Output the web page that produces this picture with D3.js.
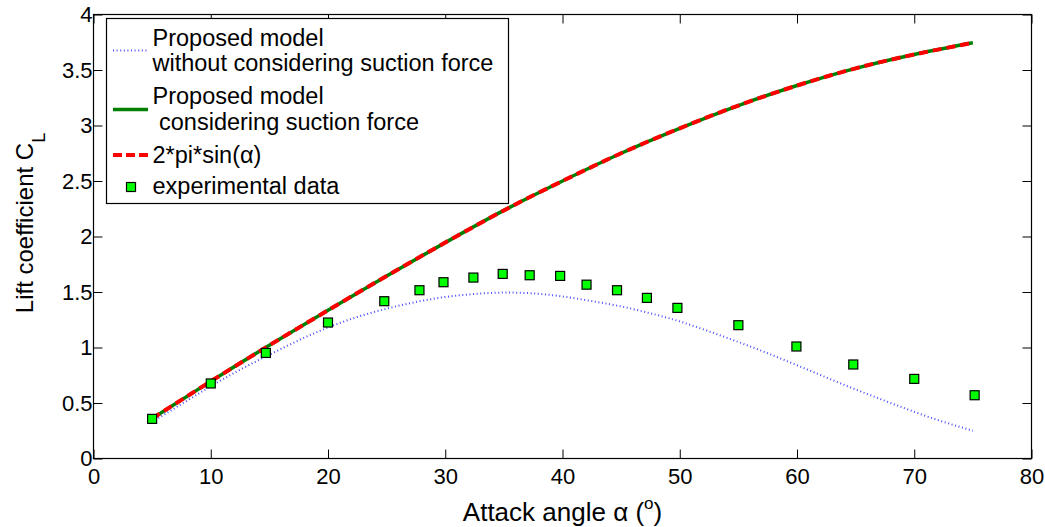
<!DOCTYPE html>
<html>
<head>
<meta charset="utf-8">
<script src="https://cdn.jsdelivr.net/npm/d3@7"></script>
<style>
body { margin: 0; background: #fff; }
svg { display: block; font-family: "Liberation Sans", Arial, Helvetica, sans-serif; }
.tick text { font-size: 22px; fill: #000; }
.tick line { stroke: #000; stroke-width: 1; }
</style>
</head>
<body>
<svg width="1045" height="527"></svg>
<script>
// values
const alphaModel = [5, 7.5, 10, 12.5, 15, 17.5, 20, 22.5, 25, 27.5, 30, 32.5, 35, 37.5, 40, 42.5, 45, 47.5, 50, 52.5, 55, 57.5, 60, 62.5, 65, 67.5, 70, 72.5, 75]
const noSuction = [0.33, 0.49, 0.65, 0.80, 0.935, 1.065, 1.18, 1.275, 1.35, 1.41, 1.455, 1.482, 1.495, 1.487, 1.46, 1.418, 1.37, 1.308, 1.235, 1.145, 1.05, 0.948, 0.84, 0.73, 0.622, 0.52, 0.42, 0.33, 0.25]

const alphaFull = [5, 10, 15, 20, 25, 30, 35, 40, 45, 50, 55, 60, 65, 70, 75]
const withSuction = [0.36, 0.695, 1.02, 1.335, 1.645, 1.945, 2.235, 2.50, 2.75, 2.975, 3.18, 3.36, 3.515, 3.64, 3.745]
const thinAirfoil = [0.36, 0.695, 1.02, 1.335, 1.645, 1.945, 2.235, 2.50, 2.75, 2.975, 3.18, 3.36, 3.515, 3.64, 3.745]

const alphaExp = [5, 10, 14.7, 20, 24.8, 27.8, 29.85, 32.4, 34.9, 37.2, 39.8, 42.05, 44.65, 47.2, 49.8, 55, 59.95, 64.8, 70, 75.15]
const clExp = [0.357, 0.676, 0.951, 1.225, 1.417, 1.516, 1.588, 1.630, 1.663, 1.651, 1.645, 1.566, 1.516, 1.447, 1.357, 1.201, 1.009, 0.847, 0.717, 0.570]

const xTicks = [0, 10, 20, 30, 40, 50, 60, 70, 80]
const yTicks = [0, 0.5, 1, 1.5, 2, 2.5, 3, 3.5, 4]

const svg = d3.select("svg")

const x = d3.scaleLinear().domain([0, 80]).range([93.5, 1031.5])
const y = d3.scaleLinear().domain([0, 4]).range([458.5, 14.5])

//axes, ticks point inward like matlab
svg.append("g")
	.attr("transform", `translate(0,${y(0)})`)
	.call(d3.axisBottom(x).tickValues(xTicks).tickSize(-9).tickSizeOuter(0).tickPadding(10).tickFormat(d => d))
svg.append("g")
	.attr("transform", `translate(0,${y(4)})`)
	.call(d3.axisTop(x).tickValues(xTicks).tickSize(-9).tickSizeOuter(0).tickFormat(""))
svg.append("g")
	.attr("transform", `translate(${x(0)},0)`)
	.call(d3.axisLeft(y).tickValues(yTicks).tickSize(-9).tickSizeOuter(0).tickPadding(1).tickFormat(d => d))
svg.append("g")
	.attr("transform", `translate(${x(80)},0)`)
	.call(d3.axisRight(y).tickValues(yTicks).tickSize(-9).tickSizeOuter(0).tickFormat(""))
svg.selectAll(".domain").remove()

svg.append("rect")
	.attr("x", x(0))
	.attr("y", y(4))
	.attr("width", x(80) - x(0))
	.attr("height", y(0) - y(4))
	.attr("fill", "none")
	.attr("stroke", "#000")
	.attr("stroke-width", 1.2)

//curves
const line = d3.line()
	.x(d => x(d[0]))
	.y(d => y(d[1]))
	.curve(d3.curveNatural)

svg.append("path")
	.datum(alphaModel.map((a, i) => [a, noSuction[i]]))
	.attr("d", line)
	.attr("fill", "none")
	.attr("stroke", "#4d4dff")
	.attr("stroke-width", 2)
	.attr("stroke-dasharray", "1,2.6")

svg.append("path")
	.datum(alphaFull.map((a, i) => [a, withSuction[i]]))
	.attr("d", line)
	.attr("fill", "none")
	.attr("stroke", "#008000")
	.attr("stroke-width", 3.5)

svg.append("path")
	.datum(alphaFull.map((a, i) => [a, thinAirfoil[i]]))
	.attr("d", line)
	.attr("fill", "none")
	.attr("stroke", "#ff0000")
	.attr("stroke-width", 4)
	.attr("stroke-dasharray", "9,5")

//experimental squares
svg.selectAll("rect.exp")
	.data(alphaExp.map((a, i) => [a, clExp[i]]))
	.enter()
	.append("rect")
	.attr("class", "exp")
	.attr("x", d => x(d[0]) - 4.5)
	.attr("y", d => y(d[1]) - 4.5)
	.attr("width", 9)
	.attr("height", 9)
	.attr("fill", "#00ff00")
	.attr("stroke", "#000")
	.attr("stroke-width", 1.2)

//legend
const legend = svg.append("g")

legend.append("rect")
	.attr("x", 106.5)
	.attr("y", 18.5)
	.attr("width", 402)
	.attr("height", 185)
	.attr("fill", "#fff")
	.attr("stroke", "#000")
	.attr("stroke-width", 1.2)

const legText = (tx, ty, s) => legend.append("text")
	.attr("x", tx)
	.attr("y", ty)
	.attr("font-size", "23.5px")
	.text(s)

legend.append("line")
	.attr("x1", 113).attr("x2", 147).attr("y1", 50.5).attr("y2", 50.5)
	.attr("stroke", "#4d4dff").attr("stroke-width", 2).attr("stroke-dasharray", "1,2.6")
legText(152.5, 45.5, "Proposed model")
legText(152.5, 71, "without considering suction force")

legend.append("line")
	.attr("x1", 113).attr("x2", 148).attr("y1", 109.5).attr("y2", 109.5)
	.attr("stroke", "#008000").attr("stroke-width", 3.5)
legText(152.5, 103.5, "Proposed model")
legText(152.5, 130, "\u00a0considering suction force")

legend.append("line")
	.attr("x1", 113).attr("x2", 148).attr("y1", 155).attr("y2", 155)
	.attr("stroke", "#ff0000").attr("stroke-width", 4).attr("stroke-dasharray", "9,4")
legText(152.5, 163, "2*pi*sin(\u03b1)")

legend.append("rect")
	.attr("x", 131 - 4.5).attr("y", 187 - 4.5).attr("width", 9).attr("height", 9)
	.attr("fill", "#00ff00").attr("stroke", "#000").attr("stroke-width", 1.2)
legText(152.5, 194, "experimental data")

//axis titles
const xlab = svg.append("text")
	.attr("x", (x(0) + x(80)) / 2)
	.attr("y", 521)
	.attr("text-anchor", "middle")
	.attr("font-size", "26px")
xlab.append("tspan").text("Attack angle \u03b1 (")
xlab.append("tspan").attr("font-size", "17px").attr("dy", -12).text("o")
xlab.append("tspan").attr("dy", 12).text(")")

const ylab = svg.append("text")
	.attr("transform", `translate(33,223) rotate(-90)`)
	.attr("text-anchor", "middle")
	.attr("font-size", "24px")
ylab.append("tspan").text("Lift coefficient C")
ylab.append("tspan").attr("font-size", "18px").attr("dy", 12).text("L")
</script>
</body>
</html>
